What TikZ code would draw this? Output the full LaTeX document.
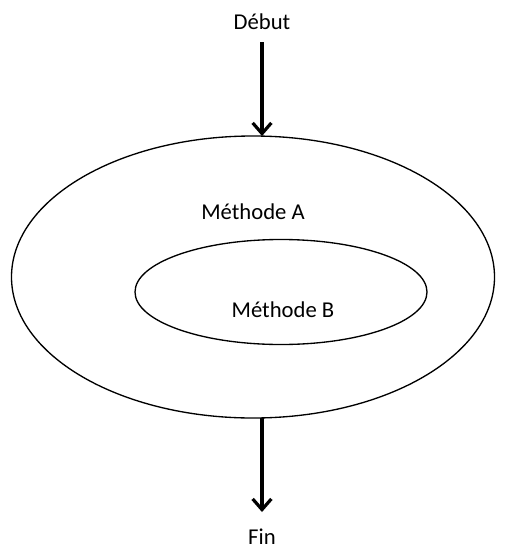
\documentclass[tikz,border=0pt]{standalone}
\usepackage{fontspec}
\setmainfont{Carlito}
\usetikzlibrary{arrows.meta}

\begin{document}
\begin{tikzpicture}[x=0.75pt,y=-0.75pt]\fontsize{17}{20}\selectfont
\tikzset{flux/.style={-{Straight Barb[length=8pt,width=14pt,line width=2.4pt]},line width=2.8pt}}
\tikzset{boucle/.style={draw,line width=1pt}}
\tikzset{etiq/.style={inner sep=0pt}}
\useasboundingbox (0,0) rectangle (505,550);
% les deux methodes
\draw[boucle] (253,277) ellipse [x radius=241.5,y radius=141];
\draw[boucle] (281,292) ellipse [x radius=146,y radius=52.5];
\node[etiq] (methA) at (253,212) {Méthode A};
\node[etiq] (methB) at (283,310) {Méthode B};
% debut et fin
\node[etiq] (debut) at (262,22) {Début};
\node[etiq] (fin) at (262,537) {Fin};
\coordinate (hautA) at (262,136);
\coordinate (basA) at (262,418);
\draw[flux] (262,42) -- (hautA);
\draw[flux] (basA) -- (262,512);
\end{tikzpicture}
\end{document}
